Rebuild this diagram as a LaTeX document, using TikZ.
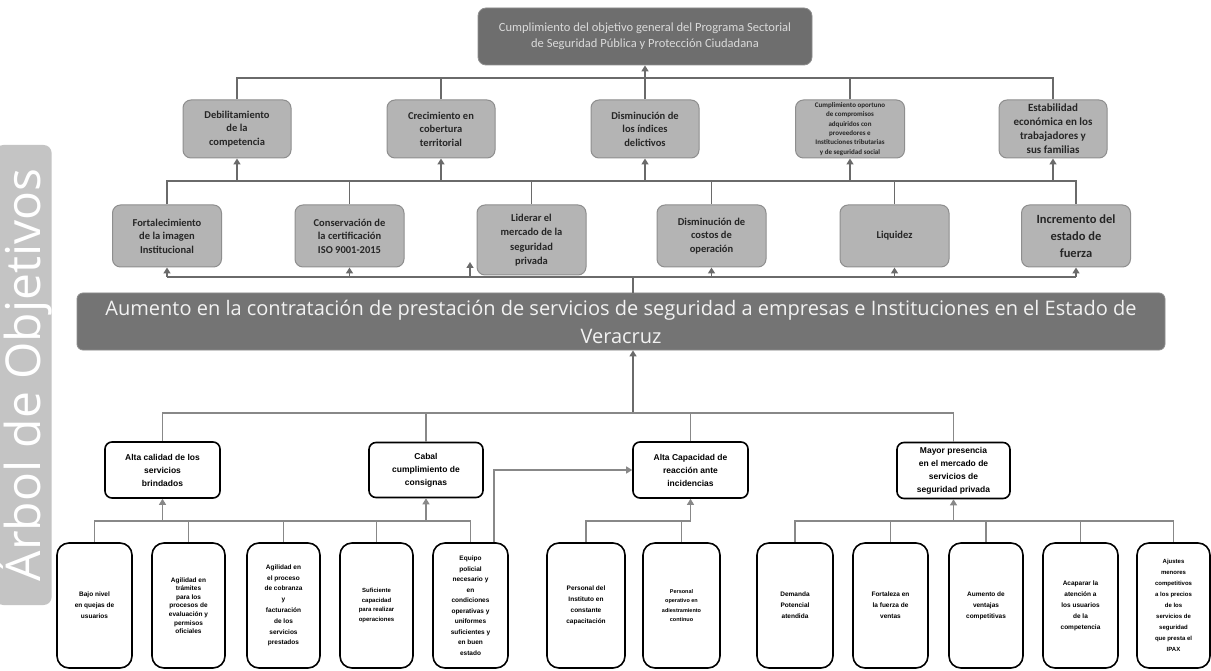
\documentclass[tikz,border=0pt]{standalone}
\usepackage{fontspec}
\setmainfont{Carlito}
\newfontfamily\titlefont{Open Sans}
\newfontfamily\lowfont{Liberation Sans}
\usetikzlibrary{arrows.meta}
\definecolor{topfill}{HTML}{6E6E6E}
\definecolor{toptext}{HTML}{DADADA}
\definecolor{midfill}{HTML}{B4B4B4}
\definecolor{midline}{HTML}{8E8E8E}
\definecolor{barfill}{HTML}{747474}
\definecolor{linec}{HTML}{6A6A6A}
\definecolor{lowline}{HTML}{888888}
\definecolor{titlefill}{HTML}{C4C4C4}
\tikzset{
  topbox/.style={rounded corners=8pt, fill=topfill, draw=midline, line width=0.8pt, align=center,
    text=toptext, font=\fontsize{12.5}{16}\selectfont, inner sep=0pt},
  midbox/.style={rounded corners=8pt, fill=midfill, draw=midline, line width=1pt, align=center,
    font=\bfseries\fontsize{10.5}{13.5}\selectfont, inner sep=0pt, text=black!85},
  barbox/.style={rounded corners=6pt, fill=barfill, draw=midline, line width=0.8pt, align=center,
    text=white!95!black, font=\titlefont\fontsize{20}{28}\selectfont, inner sep=0pt},
  lvbox/.style={rounded corners=7pt, fill=white, draw=black, line width=1.6pt, align=center,
    font=\lowfont\bfseries\fontsize{8.5}{13}\selectfont, inner sep=0pt},
  leafbox/.style={rounded corners=12pt, fill=white, draw=black, line width=1.6pt, align=center,
    font=\lowfont\bfseries\fontsize{6.5}{11}\selectfont, inner sep=0pt, minimum height=125pt},
  ln/.style={draw=linec, line width=1.5pt},
  lln/.style={draw=lowline, line width=1.2pt},
  arr/.style={draw=linec, line width=1.5pt, -{Triangle[length=6pt,width=7pt]}},
  larr/.style={draw=lowline, line width=1.2pt, -{Triangle[length=6pt,width=7pt]}},
  titlebox/.style={rounded corners=8pt, fill=titlefill, draw=none, text=white,
    font=\titlefont\fontsize{48}{48}\selectfont, inner sep=0pt}
}
\begin{document}
\begin{tikzpicture}[x=1pt,y=-1pt]
\useasboundingbox[fill=white] (0,0) rectangle (1211,671);

% title
\node[titlebox, minimum width=460pt, minimum height=41pt, rotate=90] (ttl) at (23.5,375) {Árbol de Objetivos};

% top
\node[topbox, minimum width=334pt, minimum height=57pt] (top) at (645,36.5)
  {Cumplimiento del objetivo general del Programa Sectorial\\de Seguridad Pública y Protección Ciudadana};

% level 2
\node[midbox, minimum width=108pt, minimum height=58pt] (d1) at (237,129) {Debilitamiento\\de la\\competencia};
\node[midbox, minimum width=108pt, minimum height=58pt] (d2) at (441,129) {Crecimiento en\\cobertura\\territorial};
\node[midbox, minimum width=108pt, minimum height=58pt] (d3) at (645,129) {Disminución de\\los índices\\delictivos};
\node[midbox, minimum width=109pt, minimum height=58pt, font=\bfseries\fontsize{7}{9.4}\selectfont] (d4) at (850,129)
  {Cumplimiento oportuno\\de compromisos\\adquiridos con\\proveedores e\\Instituciones tributarias\\y de seguridad social};
\node[midbox, minimum width=108pt, minimum height=58pt, font=\bfseries\fontsize{11}{14}\selectfont] (d5) at (1053,129)
  {Estabilidad\\económica en los\\trabajadores y\\sus familias};

% level 3
\node[midbox, minimum width=109pt, minimum height=62pt] (f1) at (167,236) {Fortalecimiento\\de la imagen\\Institucional};
\node[midbox, minimum width=109pt, minimum height=62pt] (f2) at (349.5,236) {Conservación de\\la certificación\\ISO 9001-2015};
\node[midbox, minimum width=109pt, minimum height=70pt, font=\bfseries\fontsize{10.5}{14.5}\selectfont] (f3) at (531.5,240) {Liderar el\\mercado de la\\seguridad\\privada};
\node[midbox, minimum width=109pt, minimum height=62pt] (f4) at (711.5,236) {Disminución de\\costos de\\operación};
\node[midbox, minimum width=109pt, minimum height=62pt] (f5) at (894.5,236) {Liquidez};
\node[midbox, minimum width=109pt, minimum height=62pt, font=\bfseries\fontsize{12.5}{17}\selectfont] (f6) at (1076,236) {Incremento del\\estado de\\fuerza};

% bar
\node[barbox, minimum width=1088pt, minimum height=57pt] (bar) at (621,321.5)
  {Aumento en la contratación de prestación de servicios de seguridad a empresas e Instituciones en el Estado de\\Veracruz};

% level 4
\node[lvbox, minimum width=115pt, minimum height=56pt] (a1) at (162.5,470) {Alta calidad de los\\servicios\\brindados};
\node[lvbox, minimum width=114pt, minimum height=55pt] (a2) at (426,470) {Cabal\\cumplimiento de\\consignas};
\node[lvbox, minimum width=115pt, minimum height=56pt] (a3) at (690.5,470) {Alta Capacidad de\\reacción ante\\incidencias};
\node[lvbox, minimum width=113pt, minimum height=56pt, font=\lowfont\bfseries\fontsize{8.5}{13}\selectfont] (a4) at (953.5,470.5) {Mayor presencia\\en el mercado de\\servicios de\\seguridad privada};

% leaves
\node[leafbox, minimum width=75pt] (b1) at (94.5,605.5) {Bajo nivel\\en quejas de\\usuarios};
\node[leafbox, minimum width=73pt, font=\lowfont\bfseries\fontsize{6.5}{8.6}\selectfont] (b2) at (188.5,605.5) {Agilidad en\\trámites\\para los\\procesos de\\evaluación y\\permisos\\oficiales};
\node[leafbox, minimum width=73pt, font=\lowfont\bfseries\fontsize{6.5}{10.8}\selectfont] (b3) at (283.5,605.5) {Agilidad en\\el proceso\\de cobranza\\y\\facturación\\de los\\servicios\\prestados};
\node[leafbox, minimum width=73pt, font=\lowfont\bfseries\fontsize{6}{9.5}\selectfont] (b4) at (376.5,605.5) {Suficiente\\capacidad\\para realizar\\operaciones};
\node[leafbox, minimum width=75pt, font=\lowfont\bfseries\fontsize{6.5}{10.5}\selectfont] (b5) at (470.5,605.5) {Equipo\\policial\\necesario y\\en\\condiciones\\operativas y\\uniformes\\suficientes y\\en buen\\estado};
\node[leafbox, minimum width=78pt] (b6) at (586,605.5) {Personal del\\Instituto en\\constante\\capacitación};
\node[leafbox, minimum width=77pt, font=\lowfont\bfseries\fontsize{5.5}{9.5}\selectfont] (b7) at (681.5,605.5) {Personal\\operativo en\\adiestramiento\\continuo};
\node[leafbox, minimum width=76pt] (b8) at (795,605.5) {Demanda\\Potencial\\atendida};
\node[leafbox, minimum width=75pt] (b9) at (890.5,605.5) {Fortaleza en\\la fuerza de\\ventas};
\node[leafbox, minimum width=74pt] (b10) at (986,605.5) {Aumento de\\ventajas\\competitivas};
\node[leafbox, minimum width=75pt] (b11) at (1080.5,605.5) {Acaparar la\\atención a\\los usuarios\\de la\\competencia};
\node[leafbox, minimum width=73pt, font=\lowfont\bfseries\fontsize{6}{11}\selectfont] (b12) at (1173.5,605.5) {Ajustes\\menores\\competitivos\\a los precios\\de los\\servicios de\\seguridad\\que presta el\\IPAX};

% junction coordinates
\coordinate (j1) at (645,78);
\coordinate (j2) at (0,181);
\coordinate (j3) at (0,277);
\coordinate (j4) at (0,413);
\coordinate (j5) at (0,521);
\coordinate (bx) at (633,0);
\coordinate (lidtip) at (470,262);
\coordinate (lidbase) at (470,277);
\coordinate (e1) at (494,0);

% top connectors
\draw[arr] (j1) -- (top.south);
\draw[ln] (d1.north) -- (d1.north |- j1) -- (d5.north |- j1) -- (d5.north);
\foreach \n in {d2,d3,d4} \draw[ln] (\n.north) -- (\n.north |- j1);

% level2-level3
\draw[ln] (f1.north) -- (f1.north |- j2) -- (f6.north |- j2) -- (f6.north);
\foreach \n in {f2,f3,f4,f5} \draw[ln] (\n.north) -- (\n.north |- j2);
\foreach \n in {d1,d2,d3,d4,d5} \draw[arr] (\n.south |- j2) -- (\n.south);

% level3-bar
\draw[ln] (f1.south |- j3) -- (f6.south |- j3);
\foreach \n in {f1,f2,f4,f5,f6} \draw[arr] (\n.south |- j3) -- (\n.south);
\draw[arr] (lidbase) -- (lidtip);
\draw[ln] (bx |- j3) -- (bx |- bar.north);

% bar-level4
\draw[arr] (bx |- j4) -- (bx |- bar.south);
\draw[lln] (a1.north) -- (a1.north |- j4) -- (a4.north |- j4) -- (a4.north);
\foreach \n in {a2,a3} \draw[lln] (\n.north) -- (\n.north |- j4);

% level4-leaves
\draw[lln] (b1.north) -- (b1.north |- j5) -- (b5.north |- j5) -- (b5.north);
\foreach \n in {b2,b3,b4} \draw[lln] (\n.north) -- (\n.north |- j5);
\draw[larr] (a1.south |- j5) -- (a1.south);
\draw[larr] (a2.south |- j5) -- (a2.south);
\draw[lln] (b6.north) -- (b6.north |- j5) -- (a3.south |- j5);
\draw[lln] (b7.north) -- (b7.north |- j5);
\draw[larr] (a3.south |- j5) -- (a3.south);
\draw[lln] (b8.north) -- (b8.north |- j5) -- (b12.north |- j5) -- (b12.north);
\foreach \n in {b9,b10,b11} \draw[lln] (\n.north) -- (\n.north |- j5);
\draw[larr] (a4.south |- j5) -- (a4.south);
\draw[larr] (e1 |- b5.north) -- (e1 |- a3.west) -- (a3.west);
\end{tikzpicture}
\end{document}
